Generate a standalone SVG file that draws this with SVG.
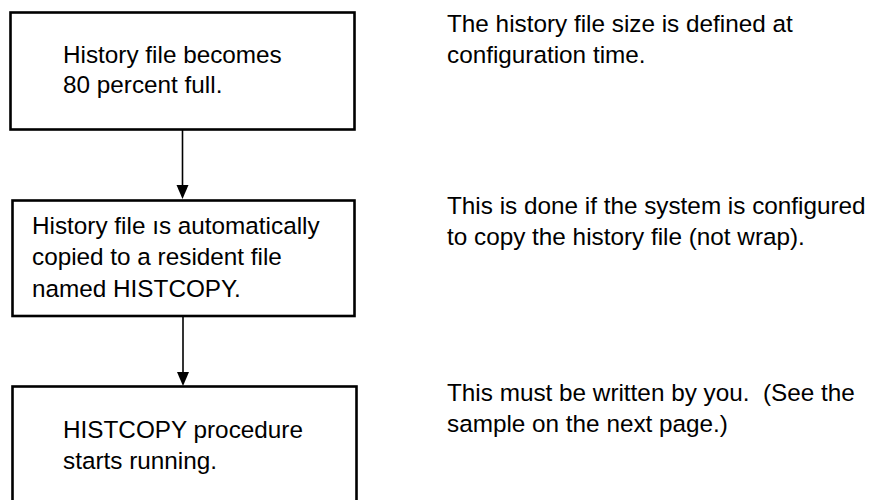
<svg xmlns="http://www.w3.org/2000/svg" width="870" height="500" viewBox="0 0 870 500">
<defs>
<style>
.box{fill:#fff;stroke:#000;stroke-width:2.6}
.t{font-family:"Liberation Sans",Arial,sans-serif;font-size:24.3px;fill:#000;white-space:pre}
.c{stroke:#000;stroke-width:1.6;fill:none}
.ah{fill:#000}
</style>
</defs>
<rect width="870" height="500" fill="#fff"/>
<g id="connectors">
<line class="c" x1="182.5" y1="130" x2="182.5" y2="186"/>
<path class="ah" d="M176.5,185 L188.5,185 L182.5,199 Z"/>
<line class="c" x1="183" y1="317" x2="183" y2="373"/>
<path class="ah" d="M177,372 L189,372 L183,386 Z"/>
</g>
<g id="node1">
<rect class="box" x="10.5" y="12.5" width="344" height="117"/>
<text class="t" x="63" y="63">History file becomes</text>
<text class="t" x="63" y="93">80 percent full.</text>
</g>
<g id="node2">
<rect class="box" x="12.5" y="200.5" width="342" height="115.5"/>
<text class="t" x="32" y="234">History file ıs automatically</text>
<text class="t" x="32" y="265">copied to a resident file</text>
<text class="t" x="32" y="297">named HISTCOPY.</text>
</g>
<g id="node3">
<rect class="box" x="12.5" y="386.5" width="344" height="130"/>
<text class="t" x="63" y="438">HISTCOPY procedure</text>
<text class="t" x="63" y="469">starts running.</text>
</g>
<g id="notes">
<text class="t" x="447" y="32">The history file size is defined at</text>
<text class="t" x="447" y="63">configuration time.</text>
<text class="t" x="447" y="214">This is done if the system is configured</text>
<text class="t" x="447" y="245">to copy the history file (not wrap).</text>
<text class="t" x="447" y="401" xml:space="preserve">This must be written by you.  (See the</text>
<text class="t" x="447" y="432">sample on the next page.)</text>
</g>
</svg>
